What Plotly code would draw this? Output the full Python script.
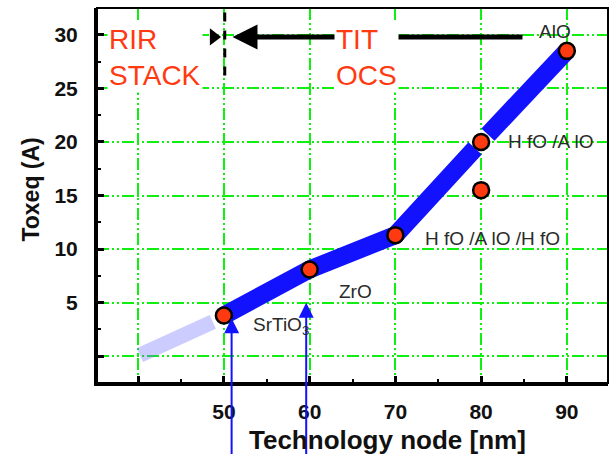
import plotly.graph_objects as go

# Equivalent oxide thickness versus technology node
node_nm = [50, 60, 70, 80, 80, 90]
toxeq_a = [3.8, 8.1, 11.3, 20.0, 15.5, 28.5]
materials = ["SrTiO<sub>3</sub>", "ZrO", "H fO /A lO /H fO", "H fO /A lO", "", "AlO"]
# pixel offsets for the material names relative to their point
label_dx = [27, 27, 28, 25, 0, -30]
label_dy = [-10, -22, -3, 0, 0, 19]

# points joined by the roadmap band (the lower 80 nm point sits off the trend)
trend_idx = [0, 1, 2, 3, 5]
# faint extrapolation of the trend toward smaller nodes
ext_x = [40.2, 48.7]
ext_y = [0.1, 3.2]

x_ticks = [40, 50, 60, 70, 80, 90]
x_ticktext = ["", "50", "60", "70", "80", "90"]
y_ticks = [0, 5, 10, 15, 20, 25, 30]
y_ticktext = ["", "5", "10", "15", "20", "25", "30"]

GREEN = "#10f010"
RED = "#ff3a10"
BLUE = "#1212ff"

tx = [node_nm[i] for i in trend_idx]
ty = [toxeq_a[i] for i in trend_idx]


def lerp(a, b, t):
    return a + (b - a) * t


# band broken just around the 80 nm point
seg1_x = tx[:3] + [lerp(tx[2], tx[3], 0.93)]
seg1_y = ty[:3] + [lerp(ty[2], ty[3], 0.93)]
seg2_x = [lerp(tx[3], tx[4], 0.08), tx[4]]
seg2_y = [lerp(ty[3], ty[4], 0.08), ty[4]]

fig = go.Figure()

fig.add_trace(go.Scatter(x=ext_x, y=ext_y, mode="lines",
                         line=dict(color="rgba(110,110,255,0.35)", width=15),
                         hoverinfo="skip", showlegend=False))
fig.add_trace(go.Scatter(x=seg1_x + [None] + seg2_x, y=seg1_y + [None] + seg2_y,
                         mode="lines", line=dict(color=BLUE, width=18),
                         hoverinfo="skip", showlegend=False))
fig.add_trace(go.Scatter(x=node_nm, y=toxeq_a, mode="markers",
                         marker=dict(size=16, color=RED,
                                     line=dict(color="black", width=2.5)),
                         showlegend=False))

# small right-pointing head at the left end of the roadmap arrow
fig.add_trace(go.Scatter(x=[48.8], y=[29.8], mode="markers",
                         marker=dict(symbol="triangle-right", size=15, color="black"),
                         hoverinfo="skip", showlegend=False))

annotations = []

# roadmap arrow pointing toward smaller nodes
annotations.append(dict(x=51.0, y=29.8, ax=85.0, ay=29.8, xref="x", yref="y",
                        axref="x", ayref="y", text="", showarrow=True,
                        arrowhead=2, arrowsize=1.0, arrowwidth=5, arrowcolor="black"))

for xv, yv, ytip in [(50.9, 3.55, -11.0), (59.6, 5.0, -11.0)]:
    annotations.append(dict(x=xv, y=yv, ax=xv, ay=ytip, xref="x", yref="y",
                            axref="x", ayref="y", text="", showarrow=True,
                            arrowhead=2, arrowsize=1.5, arrowwidth=2, arrowcolor=BLUE))

annotations.append(dict(x=36.4, y=27.9, xref="x", yref="y", text="RIR<br>STACK",
                        showarrow=False, xanchor="left", yanchor="middle", align="left",
                        bgcolor="white",
                        font=dict(family="Liberation Sans, Arial", size=28, color=RED)))
annotations.append(dict(x=62.9, y=27.9, xref="x", yref="y", text="TIT<br>OCS",
                        showarrow=False, xanchor="left", yanchor="middle", align="left",
                        bgcolor="white",
                        font=dict(family="Liberation Sans, Arial", size=28, color=RED)))

for xv, yv, name, dx, dy in zip(node_nm, toxeq_a, materials, label_dx, label_dy):
    if not name:
        continue
    annotations.append(dict(x=xv, y=yv, xref="x", yref="y", text=name,
                            showarrow=False, xanchor="left", yanchor="middle",
                            xshift=dx, yshift=dy,
                            font=dict(family="Liberation Sans, Arial", size=19,
                                      color="#2a2a2a")))

annotations.append(dict(x=-0.131, y=0.5, xref="paper", yref="paper",
                        text="<b>Toxeq (A)</b>", textangle=-90, showarrow=False,
                        xanchor="center", yanchor="middle", yshift=6,
                        font=dict(family="Liberation Sans, Arial", size=23, color="#111")))
annotations.append(dict(x=0.569, y=0, xref="paper", yref="paper",
                        text="<b>Technology node [nm]</b>", showarrow=False,
                        xanchor="center", yanchor="middle", yshift=-57,
                        font=dict(family="Liberation Sans, Arial", size=26, color="#111")))

shapes = [
    # thin frame on top and right
    dict(type="rect", xref="paper", yref="paper", x0=0, y0=0, x1=1, y1=1,
         line=dict(color="black", width=2), layer="above"),
    # dashed boundary between the two regimes
    dict(type="line", xref="x", yref="y", x0=50.1, x1=50.1, y0=26.2, y1=32.5,
         line=dict(color="black", width=3, dash="dash"), layer="above"),
]

fig.update_layout(
    width=610, height=454,
    margin=dict(l=97, r=2, t=8, b=71),
    paper_bgcolor="white", plot_bgcolor="white",
    annotations=annotations, shapes=shapes,
    showlegend=False,
)

grid_dash = "12px,3px,2px,3px,2px,3px"
fig.update_xaxes(range=[35.2, 94.8], tickvals=x_ticks, ticktext=x_ticktext,
                 ticks="inside", ticklen=7, tickwidth=2.5, tickcolor="black",
                 showline=True, linecolor="black", linewidth=3,
                 showgrid=True, gridcolor=GREEN, gridwidth=2, griddash=grid_dash,
                 zeroline=False, ticklabelstandoff=8,
                 minor=dict(tickvals=[45, 55, 65, 75, 85], ticks="inside",
                            ticklen=4, tickwidth=2, tickcolor="black"),
                 tickfont=dict(family="Liberation Sans, Arial", size=21, color="#111",
                               weight="bold"))
fig.update_yaxes(range=[-2.5, 32.5], tickvals=y_ticks, ticktext=y_ticktext,
                 ticks="inside", ticklen=7, tickwidth=2.5, tickcolor="black",
                 showline=True, linecolor="black", linewidth=3,
                 showgrid=True, gridcolor=GREEN, gridwidth=2, griddash=grid_dash,
                 zeroline=False, ticklabelstandoff=12,
                 minor=dict(tickvals=[2.5, 7.5, 12.5, 17.5, 22.5, 27.5], ticks="inside",
                            ticklen=4, tickwidth=2, tickcolor="black"),
                 tickfont=dict(family="Liberation Sans, Arial", size=21, color="#111",
                               weight="bold"))

fig.write_html("out.html")
